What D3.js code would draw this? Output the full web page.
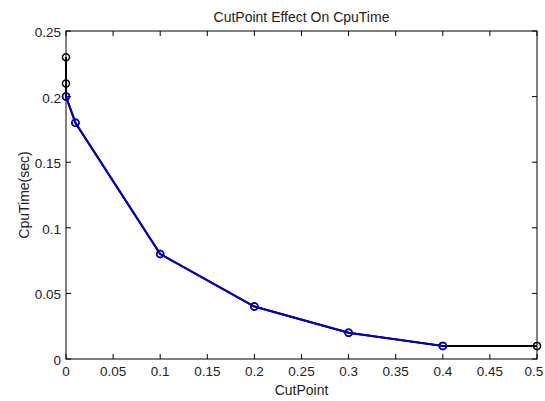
<!DOCTYPE html>
<html>
<head>
<meta charset="utf-8">
<script src="https://cdn.jsdelivr.net/npm/d3@7"></script>
<style>
  html, body { margin: 0; padding: 0; background: #fff; }
  svg { display: block; }
  text { font-family: "Liberation Sans", Arial, sans-serif; font-size: 14px; fill: #222; }
  text.tick { font-size: 13.5px; }
</style>
</head>
<body>
<svg id="chart" width="545" height="401"></svg>
<script>
// Measured cpu time for each cut point value
const cutPoints = [0, 0, 0, 0.01, 0.1, 0.2, 0.3, 0.4, 0.5];
const cpuTime   = [0.23, 0.21, 0.2, 0.18, 0.08, 0.04, 0.02, 0.01, 0.01];

// Second run (overlaid in blue)
const cutPointsB = [0, 0.01, 0.1, 0.2, 0.3, 0.4];
const cpuTimeB   = [0.2, 0.18, 0.08, 0.04, 0.02, 0.01];

const xTicks = [0, 0.05, 0.1, 0.15, 0.2, 0.25, 0.3, 0.35, 0.4, 0.45, 0.5];
const yTicks = [0, 0.05, 0.1, 0.15, 0.2, 0.25];

const W = 545;
const svg = d3.select("#chart");
const L = 66, R = 537, T = 31, B = 359;

const x = d3.scaleLinear().domain([0, 0.5]).range([L, R]);
const y = d3.scaleLinear().domain([0, 0.25]).range([B, T]);

const fmt = d => String(+d.toFixed(2));

// Axes box with inward ticks on all four sides
const g = svg.append("g");
g.append("rect").attr("x", L).attr("y", T).attr("width", R - L).attr("height", B - T)
  .attr("fill", "none").attr("stroke", "#000").attr("stroke-width", 1);

const tl = 5;
xTicks.forEach(t => {
  g.append("line").attr("x1", x(t)).attr("x2", x(t)).attr("y1", B).attr("y2", B - tl).attr("stroke", "#000");
  g.append("line").attr("x1", x(t)).attr("x2", x(t)).attr("y1", T).attr("y2", T + tl).attr("stroke", "#000");
  // keep the last label inside the page edge
  g.append("text").attr("class", "tick").attr("x", Math.min(x(t), W - 11)).attr("y", B + 17)
    .attr("text-anchor", "middle").text(fmt(t));
});
yTicks.forEach(t => {
  g.append("line").attr("x1", L).attr("x2", L + tl).attr("y1", y(t)).attr("y2", y(t)).attr("stroke", "#000");
  g.append("line").attr("x1", R).attr("x2", R - tl).attr("y1", y(t)).attr("y2", y(t)).attr("stroke", "#000");
  g.append("text").attr("class", "tick").attr("x", L - 5).attr("y", y(t) + 6).attr("text-anchor", "end").text(fmt(t));
});

// Labels
svg.append("text").attr("x", (L + R) / 2).attr("y", 22).attr("text-anchor", "middle").text("CutPoint Effect On CpuTime");
svg.append("text").attr("x", (L + R) / 2).attr("y", 395).attr("text-anchor", "middle").text("CutPoint");
svg.append("text").attr("transform", `translate(29,${(T + B) / 2}) rotate(-90)`).attr("text-anchor", "middle").text("CpuTime(sec)");

const line = d3.line().x(d => x(d[0])).y(d => y(d[1]));

function series(xs, ys, color) {
  const pts = xs.map((v, i) => [v, ys[i]]);
  svg.append("path").datum(pts).attr("d", line)
    .attr("fill", "none").attr("stroke", color).attr("stroke-width", 2);
  svg.append("g").selectAll("circle").data(pts).join("circle")
    .attr("cx", d => x(d[0])).attr("cy", d => y(d[1])).attr("r", 3.5)
    .attr("fill", "none").attr("stroke", color).attr("stroke-width", 1.5);
}

series(cutPoints, cpuTime, "#000");
series(cutPointsB, cpuTimeB, "#0000c8");
</script>
</body>
</html>
